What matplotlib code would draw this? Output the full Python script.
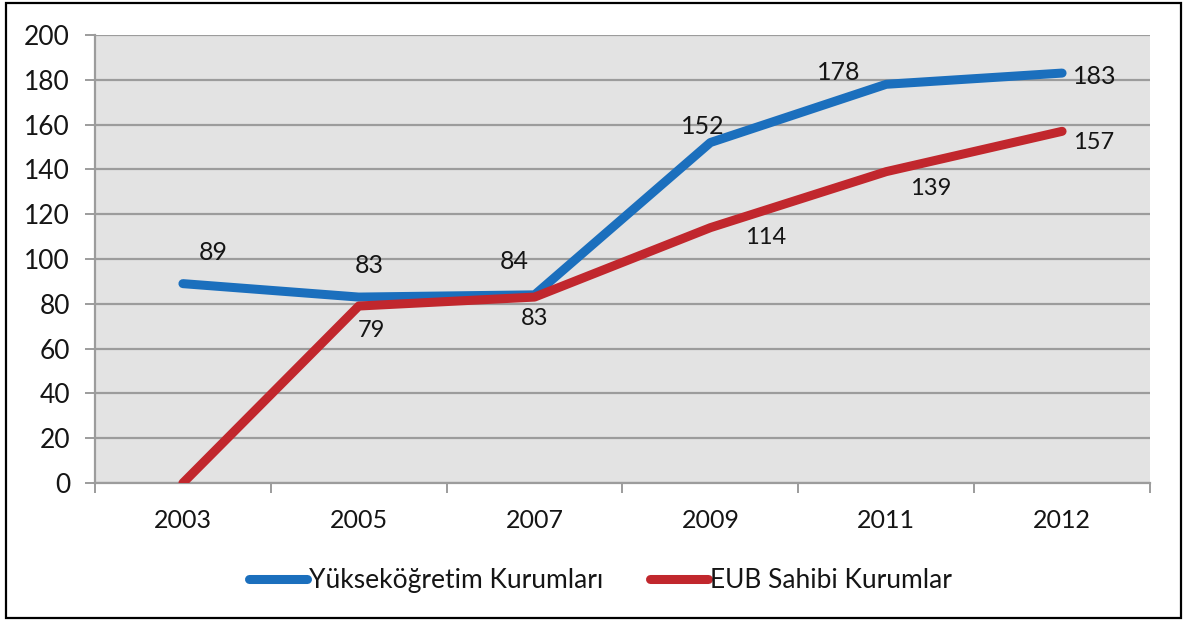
import numpy as np
import matplotlib
matplotlib.use("Agg")
import matplotlib.pyplot as plt
from matplotlib.patches import Rectangle

plt.rcParams['font.family'] = ['Lato', 'DejaVu Sans']

years = ["2003", "2005", "2007", "2009", "2011", "2012"]
yuksek = [89, 83, 84, 152, 178, 183]
eub = [0, 79, 83, 114, 139, 157]
yuksek_name = "Yükseköğretim Kurumları"
eub_name = "EUB Sahibi Kurumlar"

# label offsets in pixels (dx, dy)
yuksek_off = [(30, 31), (11, 32), (-20, 33), (-8, 16), (-48, 12), (33, -3)]
eub_off = [None, (13, -24), (0, -21), (55, -10), (44, -17), (31, -11)]

blue = "#1b6fbd"
red = "#c1272d"
grid = "#9c9c9c"
txt = "#151515"

fig = plt.figure(figsize=(11.89, 6.22), dpi=100)
fig.patch.set_facecolor("white")
fig.add_artist(Rectangle((6 / 1189, 4 / 622), 1175 / 1189, 615 / 622,
                         transform=fig.transFigure, fill=False,
                         edgecolor="black", linewidth=1.6))

ax = fig.add_axes([95 / 1189, 1 - 483 / 622, 1055 / 1189, 448 / 622])
ax.set_facecolor("#e3e3e3")

x = np.arange(len(years))
ax.plot(x, yuksek, color=blue, lw=6.5, solid_capstyle="round",
        solid_joinstyle="round", label=yuksek_name, zorder=3)
ax.plot(x, eub, color=red, lw=6.5, solid_capstyle="round",
        solid_joinstyle="round", label=eub_name, zorder=3)

for i, v in enumerate(yuksek):
    dx, dy = yuksek_off[i]
    ax.annotate(str(v), (x[i], v), xytext=(dx, dy), textcoords="offset pixels",
                ha="center", va="center", fontsize=18, color=txt, zorder=4)
for i, v in enumerate(eub):
    if eub_off[i] is None:
        continue
    dx, dy = eub_off[i]
    ax.annotate(str(v), (x[i], v), xytext=(dx, dy), textcoords="offset pixels",
                ha="center", va="center", fontsize=17, color=txt, zorder=4)

ax.set_xlim(-0.5, len(years) - 0.5)
ax.set_ylim(0, 200)
ax.set_yticks(np.arange(0, 201, 20))
ax.yaxis.grid(True, color=grid, linewidth=1.6)
ax.set_axisbelow(True)

ax.set_xticks(x)
ax.set_xticklabels(years)
ax.set_xticks(np.arange(-0.5, len(years)), minor=True)
ax.tick_params(axis="x", which="major", length=0, pad=19, labelsize=18, labelcolor=txt)
ax.tick_params(axis="x", which="minor", length=7, width=1.4, color=grid, direction="out")
ax.tick_params(axis="y", length=7, width=1.4, color=grid, pad=11, labelsize=19, labelcolor=txt)

for s in ["top", "right"]:
    ax.spines[s].set_visible(False)
for s in ["left", "bottom"]:
    ax.spines[s].set_color(grid)
    ax.spines[s].set_linewidth(1.6)

leg = fig.legend(loc="center", bbox_to_anchor=(0.505, 0.066), ncol=2, frameon=False,
                 fontsize=19, handlelength=2.2, handletextpad=0.05, columnspacing=1.8)
for t in leg.get_texts():
    t.set_color(txt)

fig.savefig("out.png", dpi=100)
